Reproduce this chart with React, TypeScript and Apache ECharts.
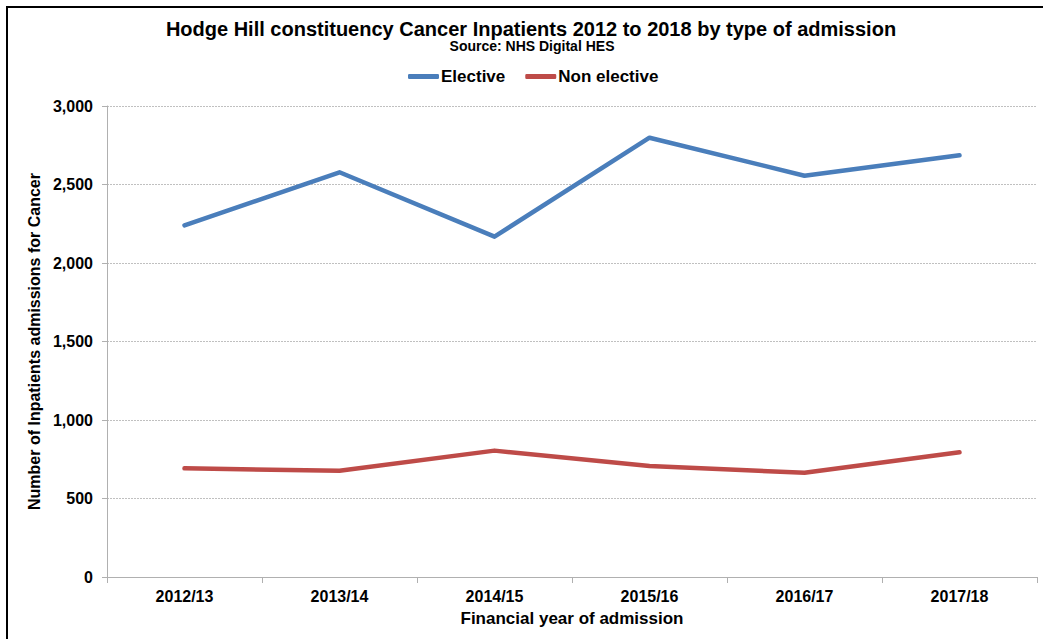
import React, { useEffect, useRef } from "react";
import * as echarts from "echarts";

const categories = ["2012/13", "2013/14", "2014/15", "2015/16", "2016/17", "2017/18"];
const elective = [2240, 2578, 2168, 2798, 2556, 2686];
const nonElective = [692, 677, 805, 707, 664, 794];
const yTicks = { min: 0, max: 3000, interval: 500 };

const FONT = "'Liberation Sans', Arial, sans-serif";

export default function App() {
  const ref = useRef<HTMLDivElement>(null);
  useEffect(() => {
    document.body.style.margin = "0";
    const chart = echarts.init(ref.current!, null, { renderer: "svg" });
    chart.setOption({
      animation: false,
      backgroundColor: "#ffffff",
      textStyle: { fontFamily: FONT },
      title: [
        {
          text: "Hodge Hill constituency Cancer Inpatients 2012 to 2018 by type of admission",
          left: 526,
          top: 14,
          textAlign: "center",
          textStyle: { fontSize: 20, fontWeight: "bold", color: "#000", fontFamily: FONT },
        },
        {
          text: "Source: NHS Digital HES",
          left: 527,
          top: 34,
          textAlign: "center",
          textStyle: { fontSize: 14, fontWeight: "bold", color: "#000", fontFamily: FONT },
        },
      ],
      legend: {
        top: 63,
        left: 403,
        itemWidth: 31,
        itemHeight: 5,
        itemGap: 20,
        icon: "roundRect",
        textStyle: { fontSize: 17, fontWeight: "bold", color: "#000", fontFamily: FONT, padding: [0, 0, 0, -3] },
        data: ["Elective", "Non elective"],
      },
      grid: { left: 107, right: 6, top: 106, bottom: 62, containLabel: false },
      xAxis: {
        type: "category",
        data: categories,
        boundaryGap: true,
        name: "Financial year of admission",
        nameLocation: "middle",
        nameGap: 33,
        nameTextStyle: { fontSize: 17, fontWeight: "bold", color: "#000", fontFamily: FONT },
        axisLine: { show: true, lineStyle: { color: "#b0b0b0", width: 1 } },
        axisTick: { show: true, interval: 0, length: 6, inside: false, lineStyle: { color: "#b0b0b0" } },
        axisLabel: { margin: 11, fontSize: 16, fontWeight: "bold", color: "#000", fontFamily: FONT, interval: 0 },
        splitLine: { show: false },
      },
      yAxis: {
        type: "value",
        min: yTicks.min,
        max: yTicks.max,
        interval: yTicks.interval,
        name: "Number of Inpatients admissions for Cancer",
        nameLocation: "middle",
        nameGap: 62,
        nameRotate: 90,
        nameTextStyle: { fontSize: 16, fontWeight: "bold", color: "#000", fontFamily: FONT },
        axisLine: { show: true, lineStyle: { color: "#b0b0b0", width: 1 } },
        axisTick: { show: true, length: 5, lineStyle: { color: "#b0b0b0" } },
        axisLabel: {
          margin: 14,
          fontSize: 16,
          fontWeight: "bold",
          color: "#000",
          fontFamily: FONT,
          formatter: (v: number) => v.toLocaleString("en-US"),
        },
        splitLine: { show: true, lineStyle: { color: "#c0c0c0", type: [2, 1], width: 1 } },
      },
      series: [
        {
          name: "Elective",
          type: "line",
          data: elective,
          symbol: "none",
          lineStyle: { color: "#4a7ebb", width: 4.5, cap: "round", join: "round" },
          itemStyle: { color: "#4a7ebb" },
        },
        {
          name: "Non elective",
          type: "line",
          data: nonElective,
          symbol: "none",
          lineStyle: { color: "#be4b48", width: 4.5, cap: "round", join: "round" },
          itemStyle: { color: "#be4b48" },
        },
      ],
      graphic: [
        { type: "line", shape: { x1: 6, y1: 7, x2: 1043, y2: 7 }, style: { stroke: "#000", lineWidth: 2 } },
        { type: "line", shape: { x1: 7, y1: 6, x2: 7, y2: 639 }, style: { stroke: "#000", lineWidth: 2 } },
      ],
    });
    return () => chart.dispose();
  }, []);
  return <div ref={ref} style={{ width: 1043, height: 639, position: "absolute", left: 0, top: 0 }} />;
}
